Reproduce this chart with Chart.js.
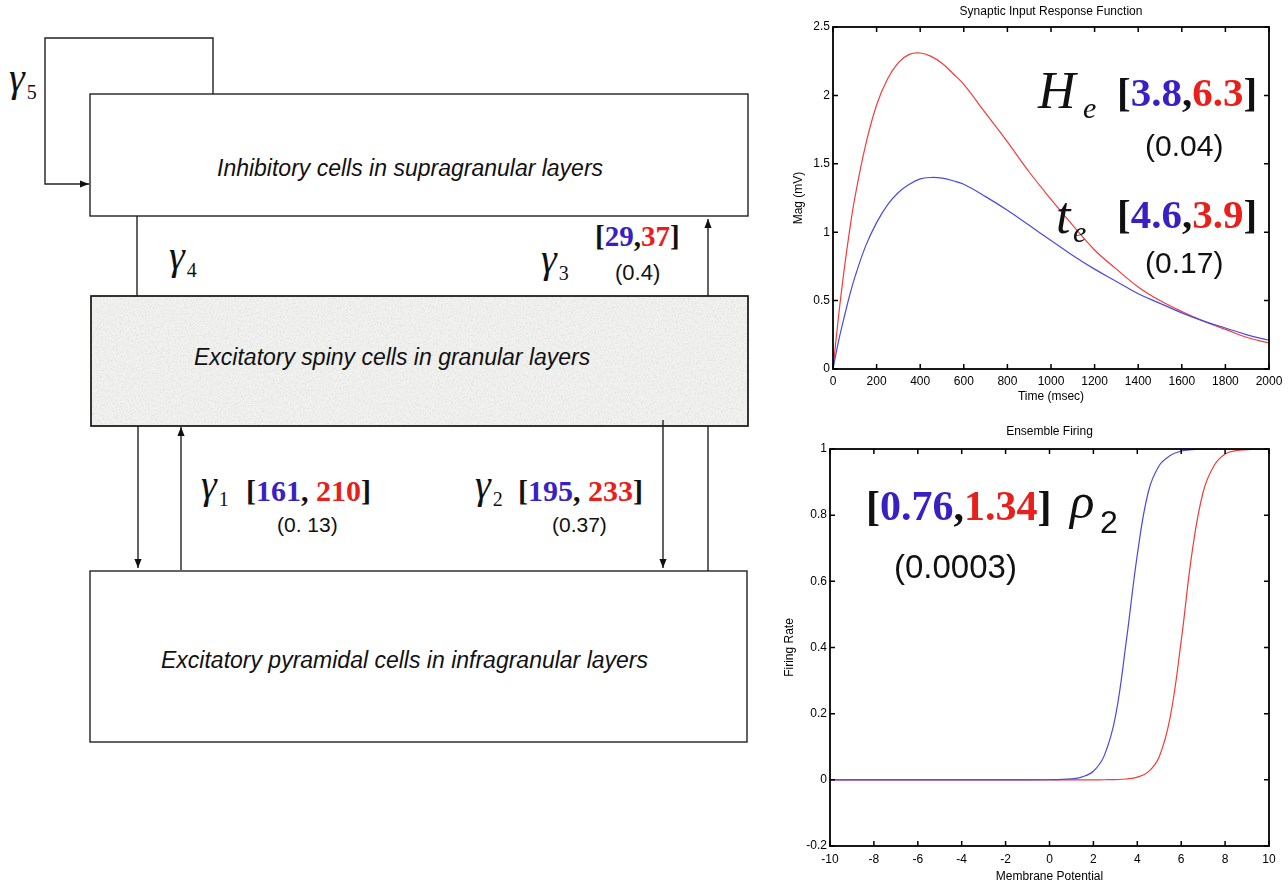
<!DOCTYPE html>
<html>
<head>
<meta charset="utf-8">
<script src="https://cdn.jsdelivr.net/npm/chart.js@4.4.0/dist/chart.umd.min.js"></script>
<style>
  body { margin: 0; background: #fff; width: 1288px; height: 887px; overflow: hidden; position: relative; font-family: "Liberation Sans", Arial, sans-serif; }
  .t { position: absolute; white-space: nowrap; line-height: 1; color: #111; }
  .g { font-family: "Liberation Serif", serif; font-style: italic; font-size: 40px; }
  .g span { font-style: normal; font-size: 20px; position: relative; top: 8px; margin-left: 2px; }
  .br { font-family: "Liberation Serif", serif; font-weight: bold; }
  .b { color: #3a1fc4; }
  .r { color: #e8201c; }
  .box { font-style: italic; font-size: 23px; }
  .it { font-family: "Liberation Serif", serif; font-style: italic; }
  canvas { position: absolute; }
</style>
</head>
<body>

<svg width="780" height="887" style="position:absolute;left:0;top:0">
  <defs>
    <marker id="ah" viewBox="0 0 10 10" refX="10" refY="5" markerUnits="userSpaceOnUse" markerWidth="10" markerHeight="9" orient="auto">
      <path d="M0,1 L10,5 L0,9 z" fill="#111"/>
    </marker>
    <filter id="speck" x="0" y="0" width="100%" height="100%">
      <feTurbulence type="fractalNoise" baseFrequency="0.6" numOctaves="3" seed="4" result="n"/>
      <feColorMatrix in="n" type="matrix" values="0 0 0 0 0.55  0 0 0 0 0.55  0 0 0 0 0.54  -2.4 0 0 0 1.3"/>
    </filter>
  </defs>
  <g stroke="#222" stroke-width="1.4" fill="none">
    <polyline points="213,94 213,38 45,38 45,184 89,184" marker-end="url(#ah)"/>
    <rect x="90" y="94" width="658" height="122"/>
    <line x1="137" y1="216" x2="137" y2="296"/>
    <line x1="708" y1="296" x2="708" y2="219" marker-end="url(#ah)"/>
    <rect x="91" y="296" width="657" height="130" fill="#f1f1ef"/>
    <rect x="92" y="297" width="655" height="128" fill="#fff" stroke="none" filter="url(#speck)" opacity="0.35"/>
    <rect x="91" y="296" width="657" height="130"/>
    <line x1="138" y1="426" x2="138" y2="568" marker-end="url(#ah)"/>
    <line x1="181" y1="570" x2="181" y2="427" marker-end="url(#ah)"/>
    <line x1="663" y1="420" x2="663" y2="568" marker-end="url(#ah)"/>
    <line x1="708" y1="426" x2="708" y2="571"/>
    <rect x="90" y="571" width="657" height="171"/>
  </g>
</svg>

<div class="t box" style="left:217px;top:157px">Inhibitory cells in supragranular layers</div>
<div class="t box" style="left:194px;top:346px">Excitatory spiny cells in granular layers</div>
<div class="t box" style="left:161px;top:649px">Excitatory pyramidal cells in infragranular layers</div>

<div class="t g" style="left:9px;top:58px">γ<span>5</span></div>
<div class="t g" style="left:169px;top:236px">γ<span>4</span></div>
<div class="t g" style="left:541px;top:239px">γ<span>3</span></div>
<div class="t g" style="left:201px;top:465px">γ<span>1</span></div>
<div class="t g" style="left:475px;top:465px">γ<span>2</span></div>

<div class="t br" style="left:595px;top:222px;font-size:29px">[<span class="b">29</span>,<span class="r">37</span>]</div>
<div class="t" style="left:615px;top:262px;font-size:22px">(0.4)</div>
<div class="t br" style="left:246px;top:476px;font-size:30px">[<span class="b">161</span>, <span class="r">210</span>]</div>
<div class="t" style="left:277px;top:514px;font-size:21px">(0. 13)</div>
<div class="t br" style="left:518px;top:476px;font-size:30px">[<span class="b">195</span>, <span class="r">233</span>]</div>
<div class="t" style="left:552px;top:514px;font-size:21px">(0.37)</div>

<canvas id="synaptic" width="508" height="410" style="left:780px;top:0px"></canvas>
<canvas id="firing" width="508" height="467" style="left:780px;top:420px"></canvas>

<div class="t it" style="left:1038px;top:65px;font-size:52px">H</div>
<div class="t it" style="left:1083px;top:93px;font-size:30px">e</div>
<div class="t br" style="left:1117px;top:72px;font-size:41px">[<span class="b">3.8</span>,<span class="r">6.3</span>]</div>
<div class="t" style="left:1145px;top:131px;font-size:30px">(0.04)</div>
<div class="t it" style="left:1056px;top:190px;font-size:52px">t</div>
<div class="t it" style="left:1073px;top:217px;font-size:30px">e</div>
<div class="t br" style="left:1117px;top:194px;font-size:41px">[<span class="b">4.6</span>,<span class="r">3.9</span>]</div>
<div class="t" style="left:1145px;top:248px;font-size:30px">(0.17)</div>

<div class="t br" style="left:866px;top:485px;font-size:42px">[<span class="b">0.76</span>,<span class="r">1.34</span>]</div>
<div class="t it" style="left:1070px;top:476px;font-size:51px">ρ</div>
<div class="t" style="left:1100px;top:506px;font-size:32px">2</div>
<div class="t" style="left:894px;top:550px;font-size:33px">(0.0003)</div>

<script>
// synaptic input response
const timeMs = [0, 25, 50, 75, 100, 150, 200, 250, 300, 350, 400, 450, 500, 550, 600, 700, 800, 900, 1000, 1100, 1200, 1300, 1400, 1500, 1600, 1700, 1800, 1900, 2000];
const magRed = [0, 0.38, 0.71, 1.00, 1.25, 1.64, 1.93, 2.12, 2.24, 2.30, 2.31, 2.285, 2.235, 2.16, 2.08, 1.87, 1.66, 1.44, 1.24, 1.05, 0.87, 0.73, 0.60, 0.50, 0.42, 0.35, 0.29, 0.23, 0.19];
const magBlue = [0, 0.20, 0.37, 0.53, 0.67, 0.90, 1.07, 1.20, 1.29, 1.35, 1.39, 1.40, 1.395, 1.376, 1.35, 1.26, 1.16, 1.05, 0.94, 0.83, 0.73, 0.64, 0.55, 0.48, 0.41, 0.35, 0.30, 0.25, 0.21];

// ensemble firing (sigmoid)
const potential = [-10, -8, -6, -4, -2, 0, 1, 1.5, 2, 2.5, 3, 3.5, 4, 4.5, 5, 5.5, 6, 6.5, 7, 7.5, 8, 8.5, 9, 9.5, 10];
const rateBlue = [0, 0, 0, 0, 0, 0.0003, 0.003, 0.009, 0.026, 0.074, 0.19, 0.42, 0.68, 0.87, 0.95, 0.98, 0.994, 0.998, 1, 1, 1, 1, 1, 1, 1];
const rateRed = [0, 0, 0, 0, 0, 0, 0, 0, 0.0001, 0.0003, 0.0008, 0.0026, 0.008, 0.024, 0.07, 0.19, 0.42, 0.69, 0.87, 0.95, 0.985, 0.995, 0.998, 0.9995, 1];

const BLUE = '#4a4ae0';
const RED = '#f23c3c';
const tickFont = { family: 'Liberation Sans', size: 12 };

// matlab-ish axes: closed box, inward ticks, title over the plot area
const matlabBox = {
  id: 'matlabBox',
  afterDraw(chart, args, opts) {
    const { ctx, chartArea: a, scales } = chart;
    ctx.save();
    ctx.strokeStyle = '#000';
    ctx.lineWidth = 1.8;
    ctx.strokeRect(a.left, a.top, a.right - a.left, a.bottom - a.top);
    ctx.lineWidth = 1.5;
    ctx.beginPath();
    scales.x.ticks.forEach((t, i) => {
      const px = scales.x.getPixelForTick(i);
      ctx.moveTo(px, a.bottom); ctx.lineTo(px, a.bottom - 5);
      ctx.moveTo(px, a.top); ctx.lineTo(px, a.top + 5);
    });
    scales.y.ticks.forEach((t, i) => {
      const py = scales.y.getPixelForTick(i);
      ctx.moveTo(a.left, py); ctx.lineTo(a.left + 5, py);
      ctx.moveTo(a.right, py); ctx.lineTo(a.right - 5, py);
    });
    ctx.stroke();
    ctx.fillStyle = '#000';
    ctx.font = '12px "Liberation Sans"';
    ctx.textAlign = 'center';
    ctx.textBaseline = 'middle';
    ctx.fillText(opts.text, (a.left + a.right) / 2, 12);
    ctx.restore();
  }
};

function series(xs, ys, color) {
  return {
    data: xs.map((x, i) => ({ x: x, y: ys[i] })),
    borderColor: color,
    borderWidth: 1.2,
    pointRadius: 0,
    fill: false,
    tension: 0.4
  };
}

function axes(o) {
  return {
    x: {
      type: 'linear', min: o.xmin, max: o.xmax,
      grid: { display: false, drawTicks: false }, border: { display: false },
      ticks: { stepSize: o.xstep, color: '#000', font: tickFont, padding: o.xpad, maxRotation: 0, callback: v => String(v) },
      title: { display: true, text: o.xtitle, color: '#000', font: tickFont, padding: { top: 0, bottom: o.xtpad } },
      afterFit: s => { s.height = 41; }
    },
    y: {
      min: o.ymin, max: o.ymax,
      grid: { display: false, drawTicks: false }, border: { display: false },
      ticks: { stepSize: o.ystep, color: '#000', font: tickFont, padding: 3, callback: v => String(Number(v.toFixed(1))) },
      title: { display: true, text: o.ytitle, color: '#000', font: tickFont, padding: { top: o.ytpad, bottom: 0 } },
      afterFit: s => { s.width = o.ywidth; }
    }
  };
}

new Chart(document.getElementById('synaptic'), {
  type: 'line',
  data: { datasets: [series(timeMs, magBlue, BLUE), series(timeMs, magRed, RED)] },
  options: {
    responsive: false,
    animation: false,
    layout: { padding: { top: 27, right: 19, bottom: 0, left: 0 } },
    plugins: { legend: { display: false }, tooltip: { enabled: false }, matlabBox: { text: 'Synaptic Input Response Function' } },
    scales: axes({ xmin: 0, xmax: 2000, xstep: 200, xpad: 5, xtitle: 'Time (msec)', xtpad: 6,
                   ymin: 0, ymax: 2.5, ystep: 0.5, ytitle: 'Mag (mV)', ytpad: 11, ywidth: 53 })
  },
  plugins: [matlabBox]
});

new Chart(document.getElementById('firing'), {
  type: 'line',
  data: { datasets: [series(potential, rateBlue, BLUE), series(potential, rateRed, RED)] },
  options: {
    responsive: false,
    animation: false,
    layout: { padding: { top: 29, right: 19, bottom: 0, left: 0 } },
    plugins: { legend: { display: false }, tooltip: { enabled: false }, matlabBox: { text: 'Ensemble Firing' } },
    scales: axes({ xmin: -10, xmax: 10, xstep: 2, xpad: 6, xtitle: 'Membrane Potential', xtpad: 3,
                   ymin: -0.2, ymax: 1, ystep: 0.2, ytitle: 'Firing Rate', ytpad: 2, ywidth: 50 })
  },
  plugins: [matlabBox]
});
</script>
</body>
</html>
